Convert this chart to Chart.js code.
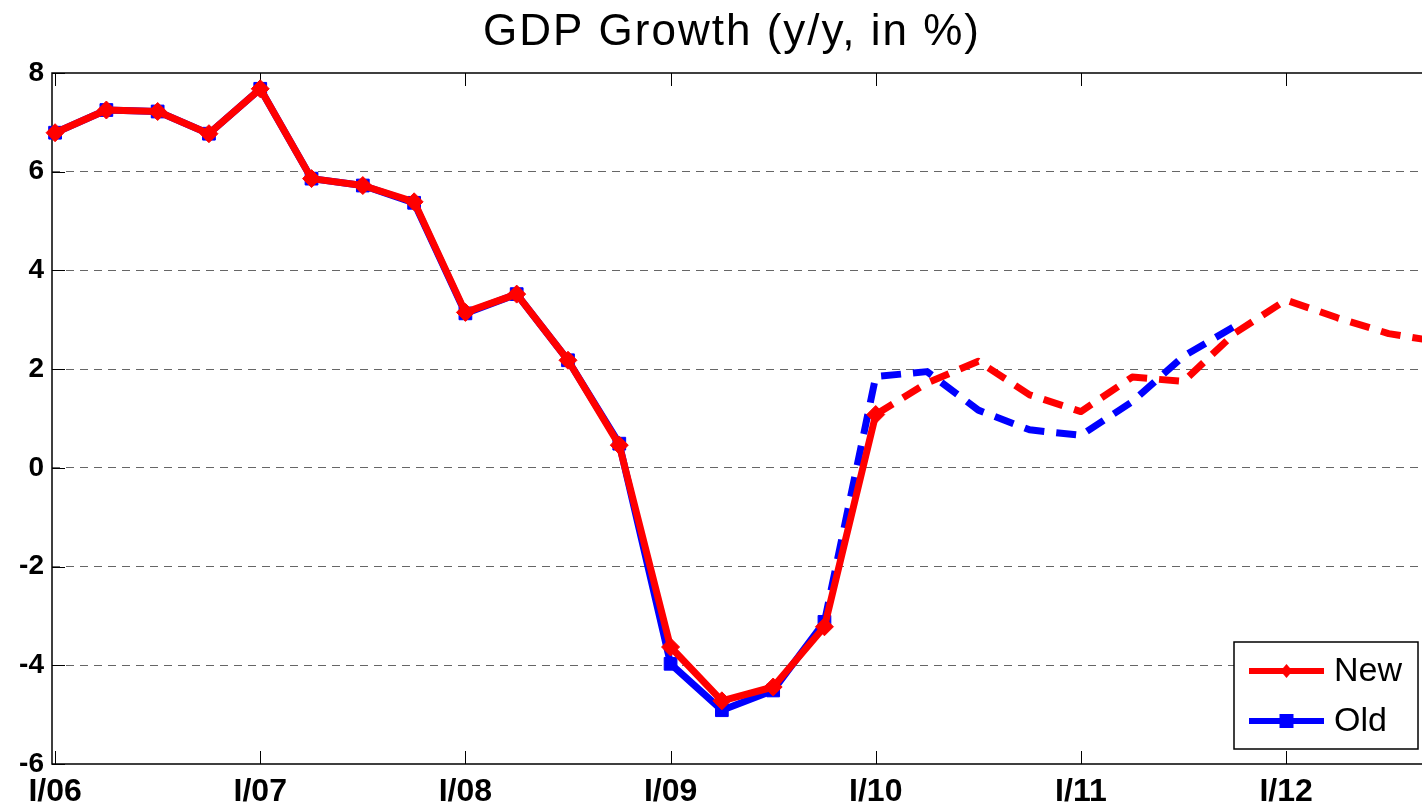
<!DOCTYPE html>
<html>
<head>
<meta charset="utf-8">
<title>GDP Growth</title>
<script src="https://cdn.jsdelivr.net/npm/chart.js@4.4.1/dist/chart.umd.min.js"></script>
<style>
    html, body { margin: 0; padding: 0; background: #fff; }
    #chart-wrap { width: 1422px; height: 807px; }
</style>
</head>
<body>
<div id="chart-wrap"><canvas id="gdp-chart" width="1422" height="807"></canvas></div>
<script>
// Quarters shown on the x axis (the picture is cut off inside IV/12)
const quarters = [
    'I/06', 'II/06', 'III/06', 'IV/06',
    'I/07', 'II/07', 'III/07', 'IV/07',
    'I/08', 'II/08', 'III/08', 'IV/08',
    'I/09', 'II/09', 'III/09', 'IV/09',
    'I/10', 'II/10', 'III/10', 'IV/10',
    'I/11', 'II/11', 'III/11', 'IV/11',
    'I/12', 'II/12', 'III/12', 'IV/12'
];

// GDP growth, y/y in %
const newGdp = [6.79, 7.25, 7.22, 6.77, 7.68, 5.86, 5.72, 5.39,
                3.15, 3.52, 2.18, 0.46, -3.63, -4.72, -4.44, -3.22,
                1.08, 1.72, 2.16, 1.48, 1.14, 1.84, 1.75, 2.73,
                3.40, 3.04, 2.72, 2.55];
const oldGdp = [6.79, 7.25, 7.22, 6.77, 7.68, 5.86, 5.72, 5.37,
                3.13, 3.52, 2.18, 0.49, -3.97, -4.91, -4.51, -3.12,
                1.85, 1.95, 1.17, 0.77, 0.66, 1.34, 2.26, 2.87];

// first quarter of the projection (dashed part) for each series
const newForecastFrom = 16;
const oldForecastFrom = 15;

const yMin = -6;
const yMax = 8;
const yStep = 2;

const TITLE = 'GDP Growth (y/y, in %)';
const FONT = "'Liberation Sans', Arial, sans-serif";

// year ticks: every quarter label starting with "I/"
const yearTicks = quarters
    .map((q, i) => (q.startsWith('I/') ? i : -1))
    .filter(i => i >= 0);

function toPoints(values) {
    return values.map((v, i) => ({ x: i, y: v }));
}

// box, tick marks pointing inwards (matlab-like axes)
const framePlugin = {
    id: 'frame',
    beforeDatasetsDraw(chart) {
        const { ctx, chartArea: a, scales: { x, y } } = chart;
        ctx.save();
        ctx.strokeStyle = '#000';
        ctx.lineWidth = 1.5;
        ctx.beginPath();
        ctx.moveTo(a.right + 5, a.top);
        ctx.lineTo(a.left, a.top);
        ctx.lineTo(a.left, a.bottom);
        ctx.lineTo(a.right + 5, a.bottom);
        ctx.stroke();

        ctx.lineWidth = 1;
        ctx.beginPath();
        x.ticks.forEach(t => {
            const px = Math.round(x.getPixelForValue(t.value)) + 0.5;
            ctx.moveTo(px, a.bottom);
            ctx.lineTo(px, a.bottom - 13);
            ctx.moveTo(px, a.top);
            ctx.lineTo(px, a.top + 13);
        });
        y.ticks.forEach(t => {
            const py = Math.round(y.getPixelForValue(t.value)) + 0.5;
            ctx.moveTo(a.left, py);
            ctx.lineTo(a.left + 13, py);
        });
        ctx.stroke();
        ctx.restore();
    }
};

// title drawn by hand, slightly letter-spaced like the original
const titlePlugin = {
    id: 'wideTitle',
    afterDraw(chart) {
        const { ctx } = chart;
        ctx.save();
        ctx.fillStyle = '#000';
        ctx.font = '44px ' + FONT;
        ctx.letterSpacing = '2px';
        ctx.textAlign = 'center';
        ctx.textBaseline = 'alphabetic';
        ctx.fillText(TITLE, 732, 45);
        ctx.restore();
    }
};

// legend box in the lower right corner
const boxLegendPlugin = {
    id: 'boxLegend',
    afterDraw(chart) {
        const { ctx, chartArea: a } = chart;
        const w = 184, h = 107;
        const left = a.right - 4 - w;
        const top = a.bottom - 15 - h;
        ctx.save();
        ctx.fillStyle = '#fff';
        ctx.fillRect(left, top, w, h);
        ctx.strokeStyle = '#000';
        ctx.lineWidth = 1.5;
        ctx.strokeRect(left, top, w, h);

        chart.data.datasets.forEach((ds, i) => {
            const cy = top + 29 + i * 50;
            const x0 = left + 15, x1 = left + 90;
            const cx = (x0 + x1) / 2;
            ctx.strokeStyle = ds.borderColor;
            ctx.fillStyle = ds.borderColor;
            ctx.lineWidth = 6;
            ctx.beginPath();
            ctx.moveTo(x0, cy);
            ctx.lineTo(x1, cy);
            ctx.stroke();
            ctx.beginPath();
            if (ds.pointStyle === 'rectRot') {
                ctx.moveTo(cx - 6, cy);
                ctx.lineTo(cx, cy - 7);
                ctx.lineTo(cx + 6, cy);
                ctx.lineTo(cx, cy + 7);
                ctx.closePath();
            } else {
                ctx.rect(cx - 7, cy - 7, 14, 14);
            }
            ctx.fill();

            ctx.fillStyle = '#000';
            ctx.font = '34px ' + FONT;
            ctx.textBaseline = 'middle';
            ctx.textAlign = 'left';
            ctx.fillText(ds.label, left + 100, cy + 1);
        });
        ctx.restore();
    }
};

document.addEventListener('DOMContentLoaded', function() {
    const ctx = document.getElementById('gdp-chart');

    new Chart(ctx, {
        type: 'line',
        data: {
            datasets: [{
                label: 'New',
                data: toPoints(newGdp),
                borderColor: '#ff0000',
                backgroundColor: '#ff0000',
                borderWidth: 7,
                borderJoinStyle: 'round',
                pointStyle: 'rectRot',
                pointRadius: c => (c.dataIndex <= newForecastFrom ? 9 : 0),
                pointBorderWidth: 1,
                pointBorderColor: '#ff0000',
                pointBackgroundColor: '#ff0000',
                segment: {
                    borderDash: c => (c.p0DataIndex >= newForecastFrom ? [20, 12] : undefined)
                },
                tension: 0,
                clip: false
            }, {
                label: 'Old',
                data: toPoints(oldGdp),
                borderColor: '#0000ff',
                backgroundColor: '#0000ff',
                borderWidth: 7,
                borderJoinStyle: 'round',
                pointStyle: 'rect',
                pointRadius: c => (c.dataIndex <= oldForecastFrom ? 9 : 0),
                pointBorderWidth: 1,
                pointBorderColor: '#0000ff',
                pointBackgroundColor: '#0000ff',
                segment: {
                    borderDash: c => (c.p0DataIndex >= oldForecastFrom ? [20, 12] : undefined)
                },
                tension: 0,
                clip: false
            }]
        },
        options: {
            responsive: false,
            animation: false,
            devicePixelRatio: 1,
            layout: { autoPadding: false, padding: { top: 73, left: 0, right: 0, bottom: 0 } },
            scales: {
                x: {
                    type: 'linear',
                    min: -0.06,
                    max: 26.65,
                    afterBuildTicks: axis => {
                        axis.ticks = yearTicks.map(v => ({ value: v }));
                    },
                    afterFit: scale => { scale.height = 43; },
                    ticks: {
                        autoSkip: false,
                        maxRotation: 0,
                        padding: 9,
                        color: '#000',
                        font: { family: FONT, size: 32, weight: 'bold' },
                        callback: value => quarters[value]
                    },
                    grid: { display: false, drawTicks: false },
                    border: { display: false }
                },
                y: {
                    min: yMin,
                    max: yMax,
                    afterFit: scale => { scale.width = 52; },
                    ticks: {
                        stepSize: yStep,
                        padding: 8,
                        color: '#000',
                        font: { family: FONT, size: 28, weight: 'bold' }
                    },
                    grid: {
                        drawTicks: false,
                        lineWidth: 1,
                        color: c => (c.tick && (c.tick.value === yMin || c.tick.value === yMax) ? 'rgba(0,0,0,0)' : '#666')
                    },
                    border: { display: false, dash: [8, 6] }
                }
            },
            plugins: {
                legend: { display: false },
                tooltip: { enabled: false },
                title: { display: false }
            }
        },
        plugins: [framePlugin, titlePlugin, boxLegendPlugin]
    });
});
</script>
</body>
</html>
